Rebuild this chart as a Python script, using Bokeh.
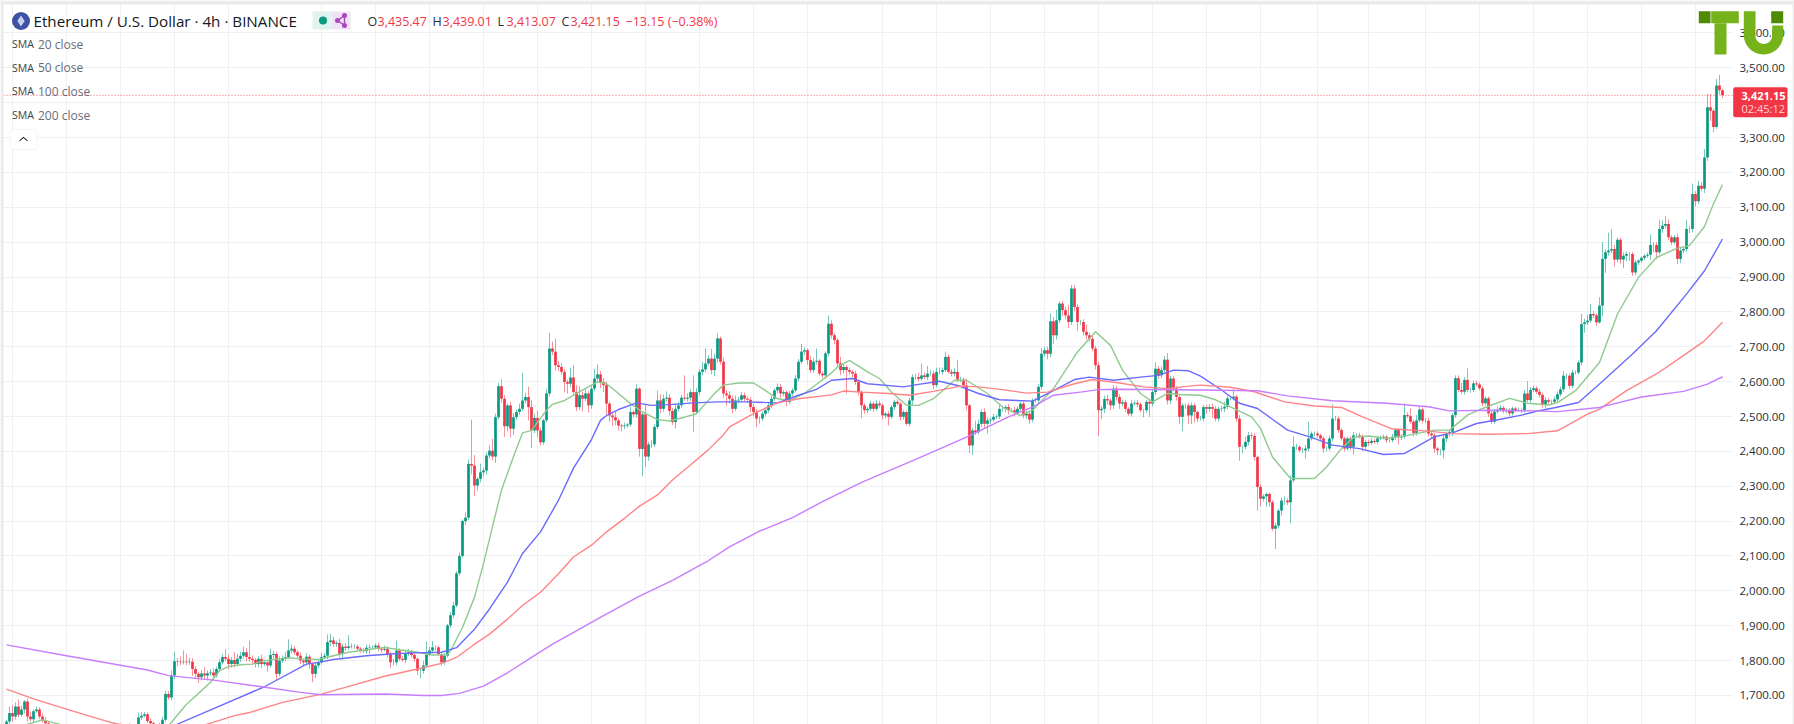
import numpy as np
from bokeh.plotting import figure
from bokeh.embed import file_html
from bokeh.resources import INLINE
from bokeh.models import (Range1d, FixedTicker, NumeralTickFormatter, Label,
                          BoxAnnotation, PolyAnnotation)

closes = [
1625,1650,1640,1668,1645,1660,1683,1640,1632,1655,1660,1640,1628,1620,1605,1600,1598,1592,1590,1595,
1588,1580,1585,1578,1582,1575,1570,1578,1572,1580,1585,1590,1588,1595,1600,1605,1612,1610,1605,1608,
1612,1606,1604,1610,1637,1642,1646,1627,1620,1612,1610,1618,1630,1704,1694,1757,1798,1797,1795,1797,
1795,1797,1776,1762,1752,1763,1757,1764,1766,1757,1776,1795,1810,1805,1790,1802,1790,1805,1814,1824,
1810,1805,1802,1790,1805,1790,1795,1786,1816,1819,1762,1800,1805,1810,1829,1834,1824,1814,1800,1795,
1811,1790,1762,1786,1795,1810,1814,1853,1858,1848,1851,1819,1840,1836,1841,1840,1840,1834,1829,1827,
1837,1838,1838,1843,1834,1831,1834,1819,1795,1795,1829,1805,1802,1819,1824,1816,1805,1771,1771,1786,
1817,1829,1838,1838,1819,1795,1814,1901,1930,1958,2050,2100,2200,2210,2364,2359,2302,2321,2340,2345,
2388,2402,2385,2498,2587,2551,2472,2532,2465,2498,2513,2522,2546,2556,2527,2460,2496,2460,2426,2489,
2566,2695,2686,2647,2642,2628,2599,2594,2612,2570,2527,2561,2551,2566,2532,2580,2609,2621,2599,2590,
2537,2503,2498,2489,2474,2472,2474,2477,2513,2506,2580,2407,2506,2385,2420,2420,2470,2546,2522,2551,
2554,2516,2484,2522,2532,2554,2551,2554,2570,2513,2570,2628,2635,2652,2666,2633,2666,2724,2657,2566,
2561,2551,2522,2546,2548,2561,2551,2548,2527,2513,2494,2494,2508,2518,2532,2551,2575,2585,2566,2570,
2542,2566,2575,2609,2657,2686,2690,2662,2633,2657,2660,2623,2618,2681,2766,2733,2719,2652,2633,2642,
2633,2628,2623,2599,2570,2532,2518,2522,2537,2522,2537,2532,2503,2508,2499,2527,2542,2537,2499,2513,
2479,2546,2613,2613,2608,2618,2613,2623,2623,2590,2628,2628,2633,2671,2628,2623,2628,2606,2606,2589,
2532,2417,2460,2455,2479,2513,2479,2489,2491,2499,2500,2522,2522,2527,2518,2518,2510,2522,2537,2503,
2508,2491,2546,2546,2585,2680,2690,2680,2773,2733,2776,2824,2805,2790,2771,2867,2814,2771,2771,2743,
2733,2723,2695,2647,2518,2522,2550,2546,2532,2580,2556,2537,2541,2522,2508,2537,2539,2535,2518,2518,
2542,2537,2570,2637,2618,2633,2663,2546,2609,2580,2556,2499,2532,2532,2503,2532,2513,2494,2494,2527,
2522,2527,2522,2494,2522,2523,2528,2552,2552,2557,2494,2413,2413,2427,2446,2444,2384,2298,2264,2271,
2278,2254,2178,2187,2230,2259,2259,2254,2317,2413,2413,2403,2403,2408,2437,2451,2451,2446,2437,2408,
2408,2437,2494,2494,2461,2437,2408,2437,2413,2446,2446,2443,2413,2427,2424,2430,2427,2437,2440,2442,
2432,2432,2442,2461,2440,2442,2504,2501,2485,2453,2489,2520,2488,2488,2451,2446,2408,2403,2403,2437,
2451,2456,2504,2610,2576,2571,2605,2576,2576,2595,2592,2581,2538,2552,2509,2485,2514,2520,2525,2515,
2518,2509,2523,2518,2518,2518,2566,2547,2576,2581,2571,2562,2533,2547,2542,2542,2549,2564,2578,2617,
2617,2588,2626,2626,2655,2765,2770,2775,2794,2790,2770,2818,2952,2971,2976,2980,2950,3007,2950,2961,
2966,2966,2913,2942,2947,2955,2961,2964,2992,2992,2971,3038,3047,3052,3014,3000,3014,2952,2976,2980,
3038,3038,3138,3117,3162,3153,3243,3387,3377,3330,3449,3435.47,3421.15,
]
wick_up = [
6,18,22,12,20,10,4,8,14,5,8,6,9,10,5,5,5,5,5,5,
5,5,5,5,5,5,5,5,5,5,5,5,5,5,8,6,12,8,6,5,
5,8,6,4,14,10,6,5,8,5,6,4,9,10,8,14,26,10,15,32,
22,12,10,8,6,10,18,8,9,12,6,10,8,24,12,8,22,14,12,16,
12,47,10,6,8,12,5,6,18,8,6,12,9,14,32,12,8,6,10,5,
10,6,5,8,6,12,8,22,18,10,6,12,8,10,32,8,7,6,5,6,
9,8,7,6,8,5,9,7,6,10,28,6,8,12,9,7,6,4,8,14,
38,10,18,6,5,4,8,4,10,10,6,10,5,15,12,127,30,5,25,8,
8,15,34,10,10,19,10,5,10,12,8,15,79,12,29,20,12,20,8,5,
12,45,20,38,12,10,8,6,28,35,20,25,10,12,8,8,28,28,10,12,
10,5,6,15,5,6,8,4,15,5,12,4,5,28,8,12,8,28,18,12,
18,10,8,16,10,8,64,12,8,48,12,8,22,43,10,28,14,14,5,12,
10,12,8,14,8,10,8,6,8,10,8,6,6,8,8,8,6,10,8,6,
6,8,6,10,8,22,8,5,12,10,35,5,6,6,24,10,6,6,19,8,
6,8,6,8,4,5,6,5,8,6,10,8,6,5,8,6,6,8,4,6,
4,8,8,10,12,34,8,22,10,8,12,12,8,15,7,8,12,34,8,5,
20,4,8,28,12,8,10,8,6,8,6,12,8,6,8,6,10,8,4,6,
8,8,6,6,8,16,8,10,22,12,30,6,8,10,30,10,10,8,6,8,
20,8,8,8,10,8,10,12,6,10,8,8,6,6,5,10,6,8,6,4,
5,6,8,18,8,10,10,19,8,8,6,6,6,5,6,8,6,4,8,6,
6,8,10,8,6,8,14,8,6,20,5,10,4,15,10,8,8,4,8,6,
4,4,6,8,6,8,12,6,14,30,8,4,8,10,48,6,6,6,5,6,
6,8,41,8,6,6,5,6,6,10,6,8,6,6,6,8,6,8,6,6,
5,6,8,6,6,8,34,8,22,6,15,8,6,8,8,6,6,4,4,8,
6,8,6,8,8,20,8,33,6,8,8,6,6,6,6,6,8,8,8,6,
5,6,5,5,8,5,10,36,8,8,6,8,6,8,6,6,8,8,8,12,
6,6,8,6,6,29,10,15,28,8,6,24,49,8,51,57,12,6,6,10,
8,6,6,8,4,4,4,6,30,8,8,25,15,22,14,6,6,10,8,6,
26,8,30,8,14,10,24,38,38,6,19,31,3.54,
]
wick_dn = [
10,6,15,9,8,6,12,15,6,10,5,8,6,4,5,5,5,5,5,5,
5,5,5,5,5,5,5,5,5,5,5,5,5,5,5,5,5,5,5,5,
6,5,8,5,6,7,5,6,8,6,5,8,8,5,6,8,10,14,8,6,
8,7,20,14,16,9,12,14,8,14,6,8,6,7,15,10,10,6,9,8,
12,8,14,10,9,12,6,18,6,10,18,8,7,6,6,9,8,9,10,8,
9,14,24,12,8,7,6,10,12,8,9,10,16,8,6,5,6,7,6,5,
8,18,6,5,7,8,5,10,16,8,9,6,6,9,6,7,9,12,22,8,
6,5,8,9,6,10,8,5,6,8,5,6,5,10,6,25,30,14,10,12,
12,8,10,18,6,12,30,14,25,18,8,8,6,8,38,50,8,20,10,7,
6,8,10,15,12,8,30,28,10,8,12,8,36,8,20,10,8,7,18,20,
30,18,25,14,14,15,8,6,6,8,10,22,78,30,12,10,8,6,12,8,
8,14,8,18,8,8,6,8,10,58,6,8,10,8,6,12,18,12,8,12,
30,14,12,6,8,6,8,10,15,12,24,14,6,8,8,8,6,8,12,8,
12,6,8,6,8,6,10,14,8,8,8,6,8,10,8,10,12,10,14,10,
67,8,10,8,10,37,10,8,6,8,5,6,12,8,25,6,8,5,10,8,
6,8,14,8,7,6,6,8,6,12,6,6,8,6,5,8,8,8,8,6,
14,22,27,8,6,10,14,28,10,6,6,7,8,10,12,6,10,6,8,8,
10,12,8,6,10,8,8,16,10,24,12,8,16,10,18,8,12,25,8,10,
12,8,8,12,74,25,12,12,14,10,10,15,8,8,6,8,6,8,6,20,
8,38,8,8,10,8,10,12,10,8,10,20,41,10,25,25,30,10,6,8,
14,8,25,8,8,8,10,8,5,6,8,40,18,8,10,10,10,68,22,8,
30,12,6,58,8,14,12,8,60,6,8,6,8,24,8,6,8,6,6,12,
8,6,8,6,8,6,8,6,8,22,6,6,12,6,8,5,6,6,5,6,
8,6,6,10,20,8,6,6,6,10,8,6,8,6,8,10,12,14,14,23,
10,8,12,8,6,6,8,6,8,6,6,6,8,6,10,6,6,5,5,6,
6,8,6,6,5,8,8,6,8,6,6,8,8,10,6,8,6,8,6,8,
10,8,6,6,6,8,25,8,6,8,10,4,30,40,10,8,20,8,12,25,
15,20,10,8,8,6,6,6,15,20,20,6,12,8,8,8,6,15,12,8,
8,12,10,15,8,6,12,10,30,15,5,12,8.08,
]
assert len(closes) == 573 and len(wick_up) == 573 and len(wick_dn) == 573

sma20_bar = [0,12,20,40,54,60,64,68,71,74,78,82,86,94,98,104,109,114,120,126,131,137,142,147,148,152,156,159,162,165,169,172,175,180,182,186,190,197,200,204,208,212,217,221,226,230,233,236,239,244,249,252,257,261,266,271,275,277,281,287,291,295,300,304,309,316,320,327,332,338,342,349,357,363,368,372,378,382,387,391,398,403,409,415,418,422,428,436,440,445,449,454,460,467,476,481,487,492,501,507,514,517,523,531,537,544,550,557,561,566,569,572]
sma20_val = [1600,1630,1612,1590,1613,1675,1706,1738,1771,1783,1788,1790,1800,1808,1805,1803,1814,1824,1831,1838,1831,1824,1816,1817,1828,1895,1982,2078,2184,2289,2385,2453,2460,2518,2535,2546,2566,2599,2594,2566,2537,2513,2491,2487,2498,2508,2537,2566,2590,2596,2596,2580,2551,2546,2566,2599,2625,2642,2661,2628,2609,2570,2532,2532,2551,2604,2604,2566,2527,2503,2518,2580,2685,2743,2704,2633,2566,2542,2566,2563,2561,2548,2523,2499,2466,2384,2322,2322,2355,2408,2440,2444,2437,2446,2461,2461,2504,2523,2552,2538,2533,2540,2574,2655,2794,2899,2956,2983,2990,3045,3110,3165]
sma50_bar = [40,57,70,86,100,104,109,120,128,136,145,150,156,161,167,172,178,184,189,195,198,200,204,210,215,221,229,237,247,257,264,270,275,282,287,299,304,311,317,324,331,342,348,356,361,369,378,384,389,394,398,405,411,417,427,435,442,451,459,466,470,476,482,490,498,505,510,516,524,531,542,550,560,566,572]
sma50_val = [1570,1618,1666,1725,1790,1795,1803,1814,1819,1822,1824,1837,1890,1948,2025,2107,2169,2260,2352,2434,2489,2503,2520,2539,2532,2534,2539,2542,2542,2539,2561,2578,2604,2609,2594,2585,2592,2601,2589,2566,2548,2544,2570,2606,2613,2604,2613,2618,2633,2631,2616,2576,2538,2523,2461,2440,2418,2408,2391,2394,2413,2442,2453,2480,2492,2504,2515,2525,2540,2593,2679,2746,2851,2918,3009]
sma100_bar = [0,9,20,31,36,41,50,60,67,76,81,92,105,115,126,137,145,150,156,161,167,172,178,184,189,195,200,206,211,217,222,228,234,239,241,249,257,264,275,279,285,294,301,309,318,324,332,340,347,356,362,371,379,387,394,398,408,416,426,436,445,452,462,474,482,494,507,517,527,531,540,550,558,566,572]
sma100_val = [1718,1690,1661,1632,1620,1613,1600,1600,1618,1642,1651,1680,1704,1728,1755,1776,1792,1809,1847,1876,1919,1958,1996,2049,2097,2131,2169,2208,2243,2275,2318,2361,2405,2448,2470,2508,2539,2551,2562,2573,2570,2566,2561,2572,2587,2585,2577,2567,2570,2594,2606,2596,2585,2580,2587,2590,2584,2571,2542,2530,2526,2499,2464,2458,2451,2449,2451,2459,2507,2521,2574,2622,2669,2717,2770]
sma200_bar = [0,20,47,54,69,85,98,105,126,139,145,151,159,167,175,182,191,199,211,222,234,241,251,262,272,285,305,320,334,342,349,358,364,371,398,417,427,442,460,474,481,494,509,517,531,545,559,567,572]
sma200_val = [1845,1814,1773,1757,1744,1725,1709,1702,1704,1700,1700,1706,1727,1765,1809,1847,1890,1929,1985,2030,2087,2126,2171,2210,2256,2311,2384,2441,2499,2527,2561,2570,2577,2578,2576,2574,2559,2545,2538,2528,2516,2518,2516,2514,2526,2556,2572,2593,2614]

price_ticks = [1700,1800,1900,2000,2100,2200,2300,2400,2500,2600,2700,2800,2900,3000,3100,3200,3300,3400,3500,3600]
time_ticks = [2,20,38,56,74,105,123,141,159,177,195,213,231,249,267,292,310,328,346,364,382,400,418,437,454,473,491,509,527,545,563]
last_price = 3421.15

UP, DOWN = "#089981", "#F23645"
FONT = "Open Sans"

def X(px):
    return (px - 6) / 3
def Y(py):
    return 3500 - (py - 67.3) / 0.3487

closes_a = np.array(closes, dtype=float)
opens = np.concatenate([[1610.0], closes_a[:-1]])
idx = np.arange(len(closes_a))
top = np.maximum(opens, closes_a)
bot = np.minimum(opens, closes_a)
highs = top + np.array(wick_up, dtype=float)
lows = bot - np.array(wick_dn, dtype=float)
colors = np.where(closes_a >= opens, UP, DOWN).tolist()

p = figure(width=1794, height=724, output_backend="svg", toolbar_location=None,
           x_range=Range1d(X(0), X(1794)), y_range=Range1d(Y(724), Y(0)),
           y_axis_location="right", min_border_left=0, min_border_right=0,
           min_border_top=0, min_border_bottom=0, outline_line_color=None,
           background_fill_color="white", border_fill_color="white")
p.xaxis.visible = False
p.xgrid.ticker = FixedTicker(ticks=time_ticks)
p.ygrid.ticker = FixedTicker(ticks=price_ticks)
p.xgrid.grid_line_color = "#eef0f3"
p.ygrid.grid_line_color = "#eef0f3"
ax = p.yaxis[0]
ax.ticker = FixedTicker(ticks=price_ticks)
ax.formatter = NumeralTickFormatter(format="0,0.00")
ax.major_label_overrides = {3400: ""}
ax.axis_line_color = None
ax.major_tick_line_color = None
ax.minor_tick_line_color = None
ax.major_label_standoff = -61
ax.major_label_text_font = FONT
ax.major_label_text_font_size = "11.5px"
ax.major_label_text_color = "#2a2e39"

# price scale background hides the grid there
p.quad(left=[X(1732)], right=[X(1794)], bottom=[Y(724)], top=[Y(0)], fill_color="white", line_color=None)

# candles
p.segment(idx, lows, idx, highs, line_color=colors, line_width=1, line_alpha=0.55)
p.vbar(idx, 0.9, bot, top, fill_color=colors, line_color=None)

# moving averages
p.line(sma20_bar, sma20_val, line_color="#8fca8f", line_width=1.4, line_join="round")
p.line(sma50_bar, sma50_val, line_color="#6a6aff", line_width=1.4, line_join="round")
p.line(sma100_bar, sma100_val, line_color="#ff8488", line_width=1.4, line_join="round")
p.line(sma200_bar, sma200_val, line_color="#c77dff", line_width=1.4, line_join="round")

p.line([X(3), X(1733)], [last_price, last_price], line_color=DOWN, line_dash="1 2", line_width=1, line_alpha=0.8)

def text(px, py, s, color="#131722", size=13, weight="normal"):
    p.add_layout(Label(x=X(px), y=Y(py), text=s, text_color=color, text_font=FONT,
                       text_font_size=f"{size}px", text_font_style=weight,
                       text_baseline="middle", text_align="left"))

# header
p.scatter([X(20.5)], [Y(20.5)], size=18, marker="circle", fill_color="#3f51a5", line_color=None)
p.scatter([X(20.5)], [Y(20.5)], size=11, marker="diamond", fill_color="#c9d1f0", line_color=None)
text(33, 20.5, "Ethereum / U.S. Dollar · 4h · BINANCE", size=15.2)
p.quad(left=[X(312)], right=[X(331)], bottom=[Y(29)], top=[Y(11)], fill_color="#e0f3ef", line_color=None)
p.quad(left=[X(331)], right=[X(350)], bottom=[Y(29)], top=[Y(11)], fill_color="#f1e3f6", line_color=None)
p.scatter([X(322.5)], [Y(20)], size=8, marker="circle", fill_color="#089981", line_color=None)
p.multi_line([[X(337), X(344)], [X(337), X(344)], [X(344), X(344)]],
             [[Y(20), Y(15)], [Y(20), Y(25)], [Y(15), Y(25)]], line_color="#ab47bc", line_width=1.5)
p.scatter([X(337), X(344), X(344)], [Y(20), Y(15), Y(25)], size=5, marker="circle",
          fill_color="#ab47bc", line_color=None)
for px, s, c in [(367, "O", "#2a2e39"), (377, "3,435.47", DOWN), (432, "H", "#2a2e39"), (442, "3,439.01", DOWN),
                 (497, "L", "#2a2e39"), (506, "3,413.07", DOWN), (561, "C", "#2a2e39"), (570, "3,421.15", DOWN),
                 (625, "−13.15 (−0.38%)", DOWN)]:
    text(px, 20.5, s, c, size=12.5)

# indicator legend
for py, s in [(43.5, "20 close"), (67, "50 close"), (90.5, "100 close"), (114.5, "200 close")]:
    text(11.5, py, "SMA", "#3c4043", size=10.5)
    text(37.5, py, s, "#6a6d78", size=12)
p.add_layout(BoxAnnotation(left=X(9.5), right=X(36.5), top=Y(129), bottom=Y(149), fill_color="white",
                           fill_alpha=1, line_color="#d6d9e0", line_width=1, border_radius=3))
p.add_layout(PolyAnnotation(xs=[X(19), X(23), X(27), X(27), X(23), X(19)],
                            ys=[Y(141), Y(137.5), Y(141), Y(139.8), Y(136.2), Y(139.8)],
                            fill_color="#131722", fill_alpha=1, line_color=None))

# last price tag
p.add_layout(BoxAnnotation(left=X(1732.7), right=X(1787), top=Y(86.7), bottom=Y(116.7),
                           fill_color=DOWN, fill_alpha=1, line_color=None, border_radius=2))
text(1741, 95, "3,421.15", "white", size=11, weight="bold")
text(1741, 107.5, "02:45:12", "#ffd9dc", size=11)

# logo
LIGHT, DARK = "#76b31b", "#4f8a00"
def box(l, r, t, b, c):
    p.add_layout(BoxAnnotation(left=X(l), right=X(r), top=Y(t), bottom=Y(b), fill_color=c, fill_alpha=1, line_color=None))
box(1698.3, 1710, 10.7, 22.7, DARK)
box(1710.7, 1738.3, 10.7, 22.7, LIGHT)
box(1714, 1726, 22.7, 54, LIGHT)
ang = np.linspace(np.pi, 0, 25)
ox = 1763 + 19.7 * np.cos(ang)
oy = 34.3 + 19.7 * np.sin(ang)
ang2 = np.linspace(0, np.pi, 17)
ix = 1763.3 + 8.4 * np.cos(ang2)
iy = 35 + 8.4 * np.sin(ang2)
ux = [1743.3] + ox.tolist() + [1782.7, 1771.7] + ix.tolist() + [1755, 1755, 1743.3]
uy = [10.7] + oy.tolist() + [25, 25] + iy.tolist() + [35, 10.7, 10.7]
p.add_layout(PolyAnnotation(xs=[X(v) for v in ux], ys=[Y(v) for v in uy], fill_color=LIGHT,
                            fill_alpha=1, line_color=None))
box(1770.7, 1782.7, 10.7, 22.7, DARK)

# window frame of the original screenshot
for l, r, t, b in [(0, 1794, 0, 4), (0, 3, 0, 724), (1792, 1794, 0, 724)]:
    box(l, r, t, b, "#ebebeb")

open("out.html", "w").write(file_html(p, INLINE))
